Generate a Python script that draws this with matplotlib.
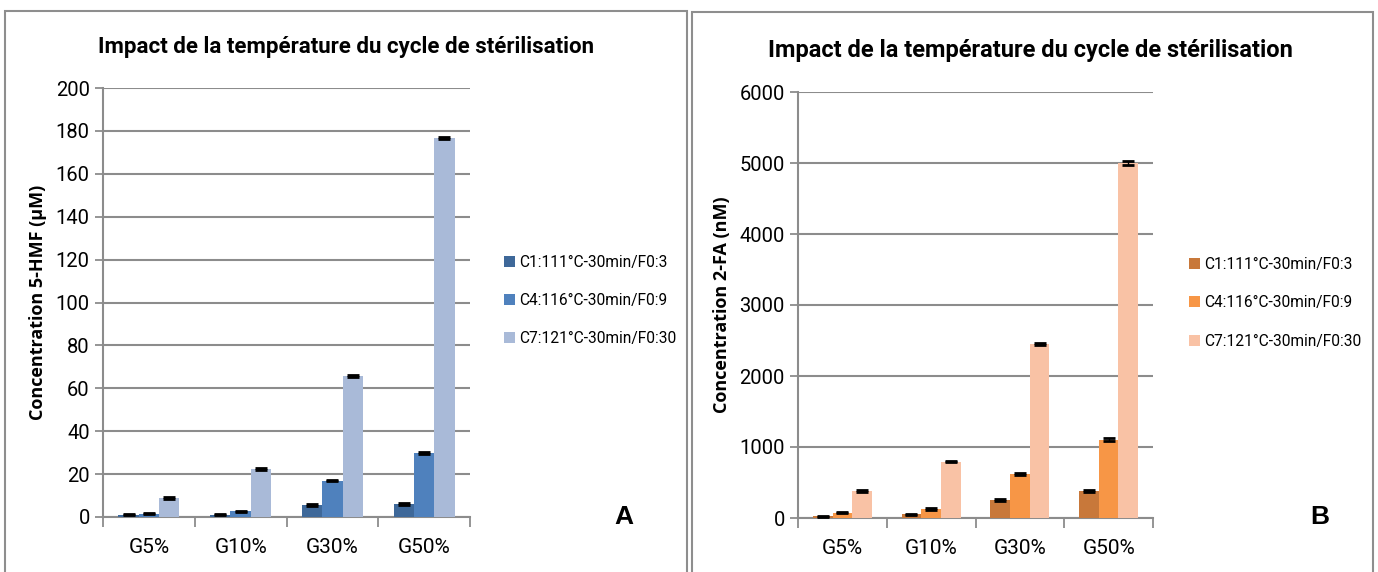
import numpy as np
import matplotlib.pyplot as plt
from matplotlib.patches import Rectangle

W, H = 1378, 572

categories = ['G5%', 'G10%', 'G30%', 'G50%']
series = ['C1:111°C-30min/F0:3', 'C4:116°C-30min/F0:9', 'C7:121°C-30min/F0:30']

# panel A: 5-HMF (µM)
hmf_c1 = [1.0, 1.0, 5.5, 6.0]
hmf_c4 = [1.5, 2.6, 17.0, 29.8]
hmf_c7 = [8.8, 22.4, 65.8, 176.8]
hmf_err_c1 = [0.3, 0.3, 0.4, 0.5]
hmf_err_c4 = [0.3, 0.3, 0.4, 0.5]
hmf_err_c7 = [0.4, 0.4, 0.5, 0.5]

# panel B: 2-FA (nM)
fa_c1 = [25, 50, 255, 385]
fa_c4 = [75, 125, 620, 1105]
fa_c7 = [385, 795, 2450, 5005]
fa_err_c1 = [10, 10, 12, 15]
fa_err_c4 = [10, 12, 20, 20]
fa_err_c7 = [12, 12, 15, 30]

blues = ['#3E6899', '#4F81BD', '#A9BAD8']
oranges = ['#C8783A', '#F79646', '#F9C2A5']

title = 'Impact de la température du cycle de stérilisation'
txt_font = ['Roboto', 'DejaVu Sans']
grid_col = '#8C8C8C'

fig = plt.figure(figsize=(W / 100, H / 100), dpi=100)


def px_axes(x0, x1, ytop, ybot):
    return fig.add_axes([x0 / W, (H - ybot) / H, (x1 - x0) / W, (ybot - ytop) / H])


def draw_panel(ax, vals, errs, colors, ymax, ystep, ylabel):
    x = np.arange(len(categories))
    w = 0.222
    for i, (v, e, c) in enumerate(zip(vals, errs, colors)):
        ax.bar(x + (i - 1) * w, v, width=w, color=c, label=series[i], zorder=3)
        ax.errorbar(x + (i - 1) * w, v, yerr=e, fmt='none', ecolor='black',
                    elinewidth=1, capsize=4, capthick=2, zorder=4)
    ax.set_xlim(-0.5, len(categories) - 0.5)
    ax.set_ylim(0, ymax)
    ax.set_yticks(np.arange(0, ymax + 1, ystep))
    ax.yaxis.grid(True, color=grid_col, lw=1.5, zorder=0)
    ax.set_xticks(x)
    ax.set_xticklabels(categories, fontsize=15, family=txt_font)
    ax.set_xticks(np.arange(-0.5, len(categories)), minor=True)
    ax.tick_params(axis='x', which='major', length=0, pad=15)
    ax.tick_params(axis='x', which='minor', length=7, color=grid_col, width=1.3)
    ax.tick_params(axis='y', length=6, color=grid_col, width=1.3, labelsize=14.5)
    for lab in ax.get_yticklabels():
        lab.set_family(txt_font)
    for s in ['top', 'right']:
        ax.spines[s].set_visible(False)
    for s in ['left', 'bottom']:
        ax.spines[s].set_color(grid_col)
        ax.spines[s].set_linewidth(1.5)
    ax.set_ylabel(ylabel, fontsize=13, fontweight='bold', family='Open Sans', labelpad=6)


axA = px_axes(103, 470, 88, 517)
draw_panel(axA, [hmf_c1, hmf_c4, hmf_c7], [hmf_err_c1, hmf_err_c4, hmf_err_c7],
           blues, 200, 20, 'Concentration 5-HMF (µM)')
axB = px_axes(798, 1153, 92, 518)
draw_panel(axB, [fa_c1, fa_c4, fa_c7], [fa_err_c1, fa_err_c4, fa_err_c7],
           oranges, 6000, 1000, 'Concentration 2-FA (nM)')

legA = axA.legend(loc='center left', bbox_to_anchor=((490 - 103) / (470 - 103), 0.505),
                  frameon=False, labelspacing=1.5, handlelength=0.7,
                  handleheight=0.7, handletextpad=0.3, prop={'family': txt_font, 'size': 11.2})
legB = axB.legend(loc='center left', bbox_to_anchor=((1175 - 798) / (1153 - 798), 0.505),
                  frameon=False, labelspacing=1.5, handlelength=0.7,
                  handleheight=0.7, handletextpad=0.3, prop={'family': txt_font, 'size': 11.2})

fig.text(346 / W, 1 - 47 / H, title, ha='center', va='center', fontsize=16,
         fontweight='bold', family=txt_font)
fig.text(1030 / W, 1 - 50 / H, title, ha='center', va='center', fontsize=17,
         fontweight='bold', family=txt_font)

fig.text(624 / W, 1 - 517 / H, 'A', ha='center', va='center', fontsize=19,
         fontweight='bold', family='Liberation Sans')
fig.text(1320 / W, 1 - 517 / H, 'B', ha='center', va='center', fontsize=19,
         fontweight='bold', family='Liberation Sans')

# panel frames
fig.patches.append(Rectangle((5 / W, -0.05), (687 - 5) / W, (H - 11) / H + 0.05,
                             transform=fig.transFigure, fill=False,
                             edgecolor='#8E8E8E', lw=1.5))
fig.patches.append(Rectangle((692 / W, -0.05), (1373 - 692) / W, (H - 12) / H + 0.05,
                             transform=fig.transFigure, fill=False,
                             edgecolor='#8E8E8E', lw=1.5))

fig.savefig('out.png', dpi=100)
